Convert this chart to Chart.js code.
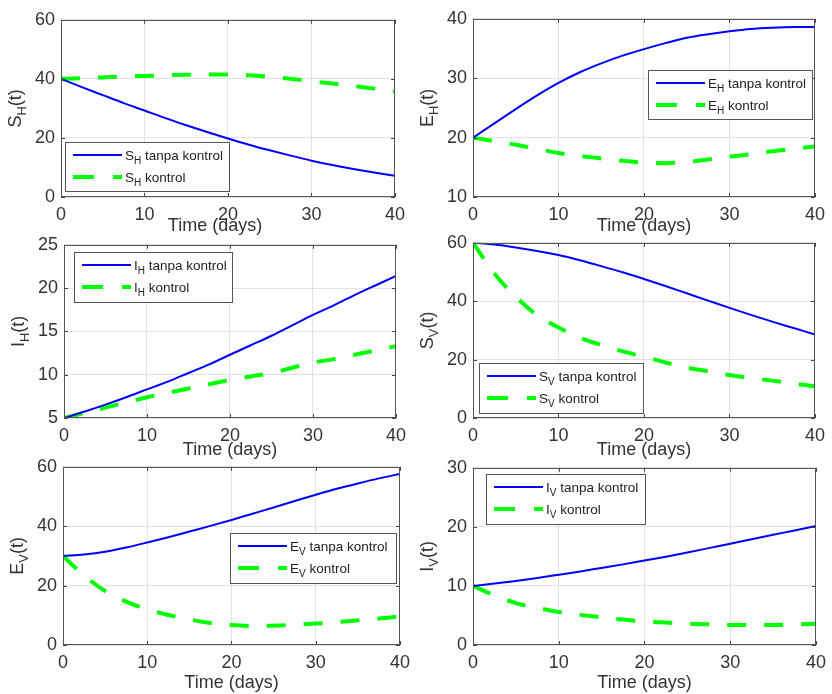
<!DOCTYPE html>
<html>
<head>
<meta charset="utf-8">
<script src="https://cdn.jsdelivr.net/npm/chart.js@4.4.0/dist/chart.umd.min.js"></script>
<style>
html, body { margin: 0; padding: 0; background: #fff; }
#wrap { position: relative; width: 832px; height: 694px; overflow: hidden; }
#wrap canvas { position: absolute; }
</style>
</head>
<body>
<div id="wrap"></div>
<script>
// time axis (days) shared by all six panels
const days = [0, 2.5, 5, 7.5, 10, 12.5, 15, 17.5, 20, 22.5, 25, 27.5, 30, 32.5, 35, 37.5, 40];

// values: "tanpa kontrol" (no control) vs "kontrol"
const shTanpa   = [40, 37.2, 34.5, 31.8, 29.3, 26.7, 24.3, 22.0, 19.8, 17.7, 15.8, 14.0, 12.3, 10.8, 9.5, 8.3, 7.2];
const shKontrol = [40, 40.2, 40.5, 40.8, 41.0, 41.2, 41.4, 41.5, 41.5, 41.2, 40.7, 40.0, 39.2, 38.4, 37.6, 36.7, 35.8];

const ehTanpa   = [20, 22.4, 24.8, 27.1, 29.2, 31.0, 32.5, 33.8, 34.9, 35.9, 36.8, 37.4, 37.9, 38.3, 38.5, 38.6, 38.6];
const ehKontrol = [20, 19.4, 18.8, 18.1, 17.4, 16.9, 16.5, 16.1, 15.8, 15.7, 15.9, 16.3, 16.8, 17.2, 17.7, 18.1, 18.5];

const ihTanpa   = [5, 5.75, 6.55, 7.4, 8.3, 9.2, 10.2, 11.2, 12.3, 13.4, 14.5, 15.7, 16.9, 18.0, 19.2, 20.3, 21.4];
const ihKontrol = [5, 5.6, 6.2, 6.8, 7.4, 7.9, 8.4, 8.9, 9.4, 9.8, 10.2, 10.8, 11.4, 11.8, 12.3, 12.8, 13.3];

const svTanpa   = [60, 59.4, 58.4, 57.2, 55.8, 54.0, 52.0, 49.9, 47.6, 45.2, 42.7, 40.2, 37.7, 35.3, 33.0, 30.8, 28.6];
const svKontrol = [60, 49.5, 41.5, 35.2, 31.0, 27.5, 25.0, 22.8, 21.0, 19.0, 17.3, 16.0, 14.7, 13.7, 12.8, 11.8, 10.8];

const evTanpa   = [30, 30.5, 31.4, 32.8, 34.5, 36.3, 38.2, 40.1, 42.1, 44.2, 46.3, 48.5, 50.6, 52.6, 54.4, 56.1, 57.6];
const evKontrol = [30, 23.4, 18.2, 14.6, 12.0, 10.1, 8.6, 7.4, 6.7, 6.4, 6.5, 6.8, 7.2, 7.7, 8.3, 8.9, 9.6];

const ivTanpa   = [10, 10.4, 10.85, 11.35, 11.9, 12.45, 13.05, 13.65, 14.3, 14.95, 15.65, 16.4, 17.15, 17.9, 18.65, 19.4, 20.15];
const ivKontrol = [10, 8.4, 7.1, 6.3, 5.6, 5.1, 4.7, 4.3, 4.0, 3.8, 3.6, 3.5, 3.4, 3.4, 3.4, 3.5, 3.6];

// axis limits per panel [min, max, step]
const shAxis = [0, 60, 20];
const ehAxis = [10, 40, 10];
const ihAxis = [5, 25, 5];
const svAxis = [0, 60, 20];
const evAxis = [0, 60, 20];
const ivAxis = [0, 30, 10];

const xTitle = "Time (days)";

// layout of the 6 subplots (page pixels): plot box, legend box, title offsets
const panels = [
  { sym: "S", sub: "H", a: shTanpa, b: shKontrol, axis: shAxis, box: [61, 15, 396, 197],  leg: [65, 142, 165, 50],  tY: 34, tX: -13 },
  { sym: "E", sub: "H", a: ehTanpa, b: ehKontrol, axis: ehAxis, box: [473, 14, 816, 197], leg: [648, 70, 165, 50],  tY: 34, tX: 0 },
  { sym: "I", sub: "H", a: ihTanpa, b: ihKontrol, axis: ihAxis, box: [64, 240, 397, 418], leg: [74, 252, 159, 51],  tY: 37, tX: 0 },
  { sym: "S", sub: "V", a: svTanpa, b: svKontrol, axis: svAxis, box: [473, 238, 816, 418], leg: [479, 363, 165, 51], tY: 37, tX: 0 },
  { sym: "E", sub: "V", a: evTanpa, b: evKontrol, axis: evAxis, box: [63, 462, 401, 645], leg: [230, 533, 167, 51], tY: 43, tX: 0 },
  { sym: "I", sub: "V", a: ivTanpa, b: ivKontrol, axis: ivAxis, box: [473, 463, 817, 645], leg: [486, 474, 160, 51], tY: 43, tX: 0 }
];

const FONT = "'Liberation Sans', Arial, Helvetica, sans-serif";
const TXT = "#333333";
const padL = 62, padT = 12, padR = 16, padB = 48;

// draws a symbol with subscript, returns end x
function richText(ctx, x, y, sym, sub, rest, size) {
  ctx.font = size + "px " + FONT;
  ctx.fillText(sym, x, y);
  x += ctx.measureText(sym).width;
  ctx.font = Math.round(size * 0.72) + "px " + FONT;
  ctx.fillText(sub, x, y + size * 0.3);
  x += ctx.measureText(sub).width;
  ctx.font = size + "px " + FONT;
  ctx.fillText(rest, x, y);
  return x + ctx.measureText(rest).width;
}

function richWidth(ctx, sym, sub, rest, size) {
  ctx.font = size + "px " + FONT;
  let w = ctx.measureText(sym).width + ctx.measureText(rest).width;
  ctx.font = Math.round(size * 0.72) + "px " + FONT;
  return w + ctx.measureText(sub).width;
}

const decor = {
  id: "decor",
  afterDraw(chart, args, o) {
    const p = o.panel;
    const ctx = chart.ctx;
    const a = chart.chartArea;
    const xs = chart.scales.x, ys = chart.scales.y;
    ctx.save();

    // inward tick marks
    ctx.strokeStyle = "#444";
    ctx.lineWidth = 1;
    ctx.beginPath();
    xs.ticks.forEach(t => {
      const px = Math.round(xs.getPixelForValue(t.value)) + 0.5;
      ctx.moveTo(px, a.bottom); ctx.lineTo(px, a.bottom - 4);
      ctx.moveTo(px, a.top); ctx.lineTo(px, a.top + 4);
    });
    ys.ticks.forEach(t => {
      const py = Math.round(ys.getPixelForValue(t.value)) + 0.5;
      ctx.moveTo(a.left, py); ctx.lineTo(a.left + 4, py);
      ctx.moveTo(a.right, py); ctx.lineTo(a.right - 4, py);
    });
    ctx.stroke();

    // axes box
    ctx.strokeStyle = "#555";
    ctx.strokeRect(Math.round(a.left) + 0.5, Math.round(a.top) + 0.5,
      Math.round(a.right - a.left) - 1, Math.round(a.bottom - a.top) - 1);

    // legend
    const lx = p.leg[0] - p.cx, ly = p.leg[1] - p.cy;
    ctx.fillStyle = "#fff";
    ctx.fillRect(lx, ly, p.leg[2], p.leg[3]);
    ctx.strokeStyle = "#555";
    ctx.strokeRect(lx + 0.5, ly + 0.5, p.leg[2] - 1, p.leg[3] - 1);
    const r1 = ly + 13, r2 = ly + 35;
    ctx.strokeStyle = "#0000ff"; ctx.lineWidth = 2;
    ctx.beginPath(); ctx.moveTo(lx + 8, r1); ctx.lineTo(lx + 57, r1); ctx.stroke();
    ctx.strokeStyle = "#00ff00"; ctx.lineWidth = 4; ctx.setLineDash([21, 19]);
    ctx.beginPath(); ctx.moveTo(lx + 8, r2); ctx.lineTo(lx + 57, r2); ctx.stroke();
    ctx.setLineDash([]);
    ctx.fillStyle = "#222";
    ctx.textBaseline = "alphabetic"; ctx.textAlign = "left";
    richText(ctx, lx + 60, r1 + 5, p.sym, p.sub, " tanpa kontrol", 13.5);
    richText(ctx, lx + 60, r2 + 5, p.sym, p.sub, " kontrol", 13.5);

    // x title
    ctx.fillStyle = TXT;
    ctx.font = "18px " + FONT;
    ctx.textAlign = "center";
    ctx.fillText(xTitle, (a.left + a.right) / 2 + p.tX, a.bottom + p.tY);

    // y title, rotated
    ctx.translate(a.left - 40, (a.top + a.bottom) / 2);
    ctx.rotate(-Math.PI / 2);
    ctx.textAlign = "left";
    const w = richWidth(ctx, p.sym, p.sub, "(t)", 18);
    richText(ctx, -w / 2, 0, p.sym, p.sub, "(t)", 18);
    ctx.restore();
  }
};

const wrap = document.getElementById("wrap");
panels.forEach(p => {
  const [L, T, R, B] = p.box;
  p.cx = L - padL;
  p.cy = T - padT;
  const cv = document.createElement("canvas");
  cv.width = (R - L) + padL + padR;
  cv.height = (B - T) + padT + padB;
  cv.style.left = p.cx + "px";
  cv.style.top = p.cy + "px";
  wrap.appendChild(cv);

  new Chart(cv, {
    type: "line",
    data: {
      labels: days,
      datasets: [
        {
          data: days.map((d, i) => ({ x: d, y: p.a[i] })),
          borderColor: "#0000ff", borderWidth: 2,
          pointRadius: 0, cubicInterpolationMode: "monotone", fill: false
        },
        {
          data: days.map((d, i) => ({ x: d, y: p.b[i] })),
          borderColor: "#00ff00", borderWidth: 4, borderDash: [19, 18],
          pointRadius: 0, cubicInterpolationMode: "monotone", fill: false
        }
      ]
    },
    options: {
      responsive: false,
      animation: false,
      devicePixelRatio: 1,
      layout: { padding: { top: padT, right: padR, left: 0, bottom: 0 } },
      plugins: { legend: { display: false }, tooltip: { enabled: false }, decor: { panel: p } },
      scales: {
        x: {
          type: "linear", min: 0, max: 40,
          afterFit: s => { s.height = padB; },
          ticks: { stepSize: 10, padding: 7, color: TXT, font: { family: FONT, size: 18 } },
          grid: { color: "#e2e2e2", drawTicks: false },
          border: { display: false }
        },
        y: {
          min: p.axis[0], max: p.axis[1],
          afterFit: s => { s.width = padL; },
          ticks: { stepSize: p.axis[2], padding: 6, color: TXT, font: { family: FONT, size: 18 } },
          grid: { color: "#e2e2e2", drawTicks: false },
          border: { display: false }
        }
      }
    },
    plugins: [decor]
  });
});
</script>
</body>
</html>
